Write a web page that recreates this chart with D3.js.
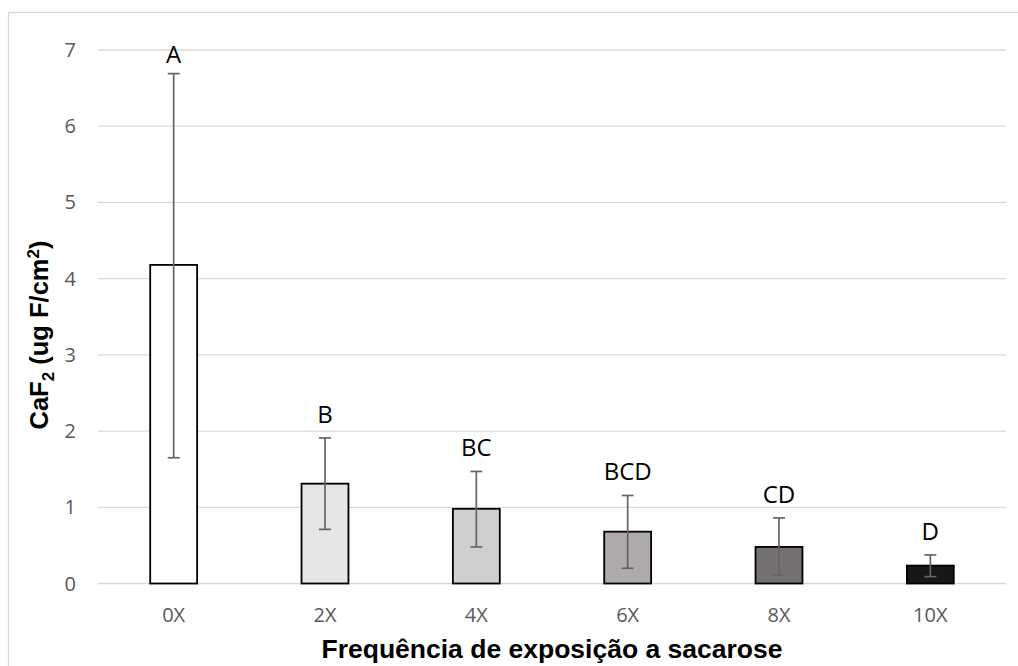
<!DOCTYPE html>
<html>
<head>
<meta charset="utf-8">
<script src="https://cdn.jsdelivr.net/npm/d3@7"></script>
<style>
  body { margin: 0; background: #fff; }
  svg { display: block; }
</style>
</head>
<body>
<svg id="chart" width="1018" height="666"></svg>
<script>
// data
const categories = ['0X', '2X', '4X', '6X', '8X', '10X'];
const means = [4.18, 1.31, 0.98, 0.68, 0.48, 0.235];
const errHigh = [6.69, 1.91, 1.47, 1.155, 0.86, 0.375];
const errLow = [1.65, 0.71, 0.48, 0.2, 0.11, 0.09];
const letters = ['A', 'B', 'BC', 'BCD', 'CD', 'D'];
const fills = ['#ffffff', '#e7e6e6', '#d0cece', '#aeaaaa', '#767171', '#171717'];
const yTicks = [0, 1, 2, 3, 4, 5, 6, 7];

const svg = d3.select('#chart');
const plotLeft = 98, plotRight = 1006, plotTop = 50, plotBottom = 583.5;

// outer chart frame
svg.append('rect').attr('x', 8.5).attr('y', 12.5).attr('width', 1030).attr('height', 700)
  .attr('fill', 'none').attr('stroke', '#d9d9d9').attr('stroke-width', 1.3);

const x = d3.scaleBand().domain(categories).range([plotLeft, plotRight]).paddingInner(0.69).paddingOuter(0.345);
const y = d3.scaleLinear().domain([0, 7]).range([plotBottom, plotTop]);

// gridlines
svg.append('g').selectAll('line').data(yTicks).enter().append('line')
  .attr('x1', plotLeft).attr('x2', plotRight)
  .attr('y1', d => y(d)).attr('y2', d => y(d))
  .attr('stroke', '#d9d9d9').attr('stroke-width', 1.3);

// y tick labels
svg.append('g').selectAll('text').data(yTicks).enter().append('text')
  .attr('x', 76).attr('y', d => y(d)).attr('dy', '0.35em')
  .attr('text-anchor', 'end')
  .attr('font-family', 'Open Sans, Carlito, sans-serif').attr('font-size', 20)
  .attr('fill', '#595959')
  .text(d => d);

// x tick labels
svg.append('g').selectAll('text').data(categories).enter().append('text')
  .attr('x', d => x(d) + x.bandwidth() / 2).attr('y', 622)
  .attr('text-anchor', 'middle')
  .attr('font-family', 'Open Sans, Carlito, sans-serif').attr('font-size', 20)
  .attr('fill', '#595959')
  .text(d => d);

// bars
svg.append('g').selectAll('rect').data(means).enter().append('rect')
  .attr('x', (d, i) => x(categories[i]))
  .attr('y', d => y(d))
  .attr('width', x.bandwidth())
  .attr('height', d => y(0) - y(d))
  .attr('fill', (d, i) => fills[i])
  .attr('stroke', '#000').attr('stroke-width', 1.8);

// error bars
const eb = svg.append('g').attr('stroke', '#656565').attr('stroke-width', 1.7);
categories.forEach(function(c, i) {
  const cx = x(c) + x.bandwidth() / 2;
  eb.append('line').attr('x1', cx).attr('x2', cx).attr('y1', y(errHigh[i])).attr('y2', y(errLow[i]));
  eb.append('line').attr('x1', cx - 6).attr('x2', cx + 6).attr('y1', y(errHigh[i])).attr('y2', y(errHigh[i]));
  eb.append('line').attr('x1', cx - 6).attr('x2', cx + 6).attr('y1', y(errLow[i])).attr('y2', y(errLow[i]));
});

// significance letters
svg.append('g').selectAll('text').data(letters).enter().append('text')
  .attr('x', (d, i) => x(categories[i]) + x.bandwidth() / 2)
  .attr('y', (d, i) => Math.max(y(errHigh[i]) - 15, y(7) + 13))
  .attr('text-anchor', 'middle')
  .attr('font-family', 'Open Sans, Carlito, sans-serif').attr('font-size', 24)
  .attr('fill', '#000')
  .text(d => d);

// axis titles
svg.append('text').attr('x', (plotLeft + plotRight) / 2).attr('y', 658)
  .attr('text-anchor', 'middle')
  .attr('font-family', 'Liberation Sans, Arial, sans-serif').attr('font-size', 26.5).attr('font-weight', 'bold')
  .attr('fill', '#000')
  .text('Frequência de exposição a sacarose');

const yt = svg.append('text')
  .attr('transform', 'translate(48,335) rotate(-90)')
  .attr('text-anchor', 'middle')
  .attr('font-family', 'Liberation Sans, Arial, sans-serif').attr('font-size', 25.5).attr('font-weight', 'bold')
  .attr('fill', '#000');
yt.append('tspan').text('CaF');
yt.append('tspan').attr('font-size', 17).attr('dy', 6).text('2');
yt.append('tspan').attr('dy', -6).text(' (ug F/cm');
yt.append('tspan').attr('font-size', 17).attr('dy', -9).text('2');
yt.append('tspan').attr('dy', 9).text(')');
</script>
</body>
</html>
